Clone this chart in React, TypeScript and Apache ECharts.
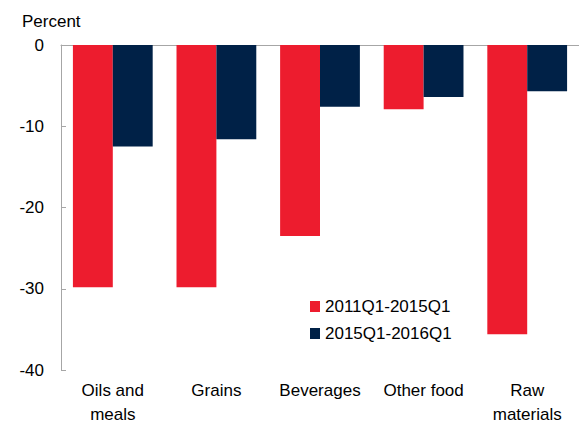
import React, { useEffect, useRef } from "react";
import * as echarts from "echarts";

const categories = ["Oils and\nmeals", "Grains", "Beverages", "Other food", "Raw\nmaterials"];
const series2011to2015 = [-29.8, -29.8, -23.5, -7.9, -35.6];
const series2015to2016 = [-12.5, -11.6, -7.6, -6.4, -5.7];
const seriesNames = ["2011Q1-2015Q1", "2015Q1-2016Q1"];
const yTicks = { min: -40, max: 0, interval: 10 };

const FONT = 'Arial, "Liberation Sans", sans-serif';
const FS = 17;

export default function App() {
  const ref = useRef<HTMLDivElement>(null);
  useEffect(() => {
    if (!ref.current) return;
    const chart = echarts.init(ref.current, null, { renderer: "svg" });
    chart.setOption({
      animation: false,
      textStyle: { fontFamily: FONT },
      grid: { left: 61, top: 45, bottom: 58, right: -8, containLabel: false },
      graphic: [
        {
          type: "text",
          left: 22,
          top: 13,
          style: { text: "Percent", fontSize: FS, fontFamily: FONT, fill: "#000" },
        },
      ],
      legend: {
        orient: "vertical",
        left: 305,
        top: 293,
        itemWidth: 10,
        itemHeight: 11,
        itemGap: 10,
        icon: "rect",
        textStyle: { fontSize: FS, color: "#000", fontFamily: FONT },
        data: seriesNames,
      },
      xAxis: [
        {
          type: "category",
          data: categories,
          position: "bottom",
          axisLine: { show: false, onZero: false },
          axisTick: { show: false },
          axisLabel: { fontSize: FS, color: "#000", lineHeight: 24, margin: 8, fontFamily: FONT, interval: 0 },
        },
        {
          type: "category",
          data: categories,
          position: "top",
          axisLine: { show: true, onZero: false, lineStyle: { color: "#a6a6a6", width: 1 } },
          axisTick: { show: false },
          axisLabel: { show: false },
        },
      ],
      yAxis: {
        type: "value",
        min: yTicks.min,
        max: yTicks.max,
        interval: yTicks.interval,
        axisLine: { show: true, lineStyle: { color: "#a6a6a6", width: 1 } },
        axisTick: { show: true, inside: true, length: 5, lineStyle: { color: "#a6a6a6" } },
        splitLine: { show: false },
        axisLabel: { fontSize: FS, color: "#000", margin: 17, fontFamily: FONT },
      },
      series: [
        {
          name: seriesNames[0],
          type: "bar",
          data: series2011to2015,
          itemStyle: { color: "#ED1C2E" },
          barGap: "0%",
          barCategoryGap: "23%",
        },
        {
          name: seriesNames[1],
          type: "bar",
          data: series2015to2016,
          itemStyle: { color: "#002147" },
          barGap: "0%",
          barCategoryGap: "23%",
        },
      ],
    });
    return () => chart.dispose();
  }, []);
  return (
    <div
      ref={ref}
      style={{ position: "fixed", left: 0, top: 0, width: 579, height: 428, background: "#fff" }}
    />
  );
}
